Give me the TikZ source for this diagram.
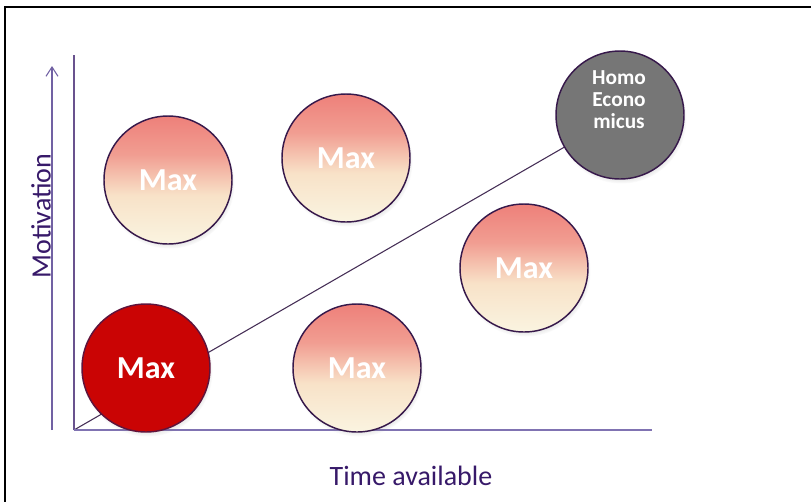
\documentclass[tikz,border=0pt]{standalone}
\usepackage{fontspec}
\setmainfont{Carlito}
\usetikzlibrary{arrows.meta,shadows,backgrounds}

\definecolor{salmontop}{RGB}{238,128,122}
\definecolor{creammid}{RGB}{248,226,200}
\definecolor{creambot}{RGB}{250,244,224}
\definecolor{maxred}{RGB}{202,4,4}
\definecolor{homogray}{RGB}{118,118,118}
\definecolor{rimpurple}{RGB}{55,25,75}
\definecolor{axispurple}{RGB}{128,115,178}
\definecolor{labelpurple}{RGB}{55,25,105}

\pgfdeclareverticalshading{maxshade}{100bp}{color(0bp)=(creambot); color(25bp)=(creambot); color(44bp)=(creammid); color(60bp)=(salmontop!70!creammid); color(75bp)=(salmontop); color(100bp)=(salmontop)}

\tikzset{
  ball/.style={circle, inner sep=0pt, minimum size=96pt, draw=rimpurple, line width=1.1pt,
    circular drop shadow={shadow xshift=1pt, shadow yshift=-2.5pt, shadow scale=1.02, opacity=0.35},
    text=white, font=\fontsize{24}{28}\selectfont\bfseries},
  maxball/.style={ball, shading=maxshade},
  redball/.style={ball, fill=maxred, draw=rimpurple!80!red},
  homoball/.style={ball, fill=homogray},
  homotext/.style={align=center, text=white, font=\fontsize{16}{16.5}\selectfont\bfseries},
  axislabel/.style={text=labelpurple, font=\fontsize{21}{24}\selectfont},
}

\begin{document}
\begin{tikzpicture}[x=0.75pt,y=0.75pt,yscale=-1,xscale=1]
\useasboundingbox (0,0) rectangle (811,501);
\clip (0,0) rectangle (811,501);

%Shape: Rectangle [frame]
\draw[line width=0.8pt] (5,7) rectangle (830,530);

%Coordinates of the axes
\coordinate (origin) at (74,430);
\coordinate (ytop) at (74,55);
\coordinate (xend) at (652,430);
\coordinate (mbot) at (52,430);
\coordinate (mtop) at (52,66);

%Straight Lines [axes]
\draw[color=labelpurple!75, line width=0.8pt] (origin) -- (ytop);
\draw[color=axispurple, line width=1.6pt] (origin) -- (xend);
%Straight Lines [motivation arrow]
\draw[color=axispurple!80!labelpurple, line width=0.8pt, -{Straight Barb[length=7pt,width=9pt]}] (mbot) -- (mtop);

%Shape: Circle [balls]
\node[maxball] (maxtl) at (168,180) {Max};
\node[maxball] (maxtm) at (346,158) {Max};
\node[maxball] (maxr) at (524,268) {Max};
\node[maxball] (maxbm) at (357,368) {Max};
\node[redball] (maxred) at (146,368) {Max};
\node[homoball] (homo) at (620,115) {};
\node[homotext] (homolbl) at (619,100) {Homo\\Econo\\micus};

%Straight Lines [diagonal]
\begin{scope}[on background layer]
\draw[color=rimpurple!80!gray, line width=0.8pt] (origin) -- (homo);
\end{scope}

%Text labels
\node[axislabel, rotate=90] (motiv) at (41,216) {Motivation};
\node[axislabel] (time) at (411,476) {Time available};
\end{tikzpicture}
\end{document}
